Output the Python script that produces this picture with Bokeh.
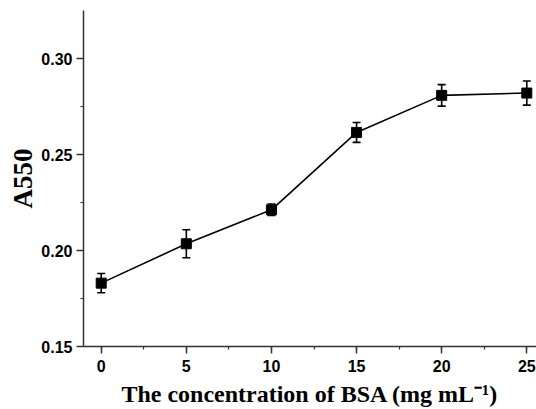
from bokeh.plotting import figure
from bokeh.models import Range1d, SingleIntervalTicker, NumeralTickFormatter, Whisker, TeeHead, ColumnDataSource
from bokeh.embed import file_html
from bokeh.resources import INLINE

conc = [0, 5, 10, 15, 20, 25]
a550 = [0.183, 0.2035, 0.2212, 0.2615, 0.2808, 0.2820]
err = [0.005, 0.0073, 0.003, 0.0052, 0.0056, 0.0063]

src = ColumnDataSource(data=dict(
    x=conc, y=a550,
    upper=[v + e for v, e in zip(a550, err)],
    lower=[v - e for v, e in zip(a550, err)],
))

p = figure(width=536, height=409, output_backend="svg", toolbar_location=None,
           x_range=Range1d(-1.04, 25.57), y_range=Range1d(0.15, 0.325),
           min_border_left=83, min_border_right=0, min_border_top=10, min_border_bottom=63)
p.outline_line_color = None
p.grid.visible = False
p.background_fill_color = "white"
p.border_fill_color = "white"

p.line("x", "y", source=src, line_color="black", line_width=1.6)
wh = Whisker(source=src, base="x", upper="upper", lower="lower", line_color="black", line_width=1.6,
             upper_head=TeeHead(size=8, line_width=1.6, line_color="black"),
             lower_head=TeeHead(size=8, line_width=1.6, line_color="black"))
p.add_layout(wh)
p.scatter("x", "y", source=src, marker="square", size=10, fill_color="black", line_color="black")

p.xaxis.ticker = SingleIntervalTicker(interval=5, num_minor_ticks=2)
p.yaxis.ticker = SingleIntervalTicker(interval=0.05, num_minor_ticks=2)
p.yaxis.formatter = NumeralTickFormatter(format="0.00")

for ax in (p.xaxis, p.yaxis):
    ax.axis_line_color = "#333333"
    ax.axis_line_width = 1.5
    ax.major_tick_line_color = "#333333"
    ax.minor_tick_line_color = "#333333"
    ax.major_tick_line_width = 1.5
    ax.minor_tick_line_width = 1.2
    ax.major_tick_out = 7
    ax.major_tick_in = 0
    ax.minor_tick_out = 3
    ax.minor_tick_in = 0
    ax.major_label_text_font = "Liberation Sans"
    ax.major_label_text_font_style = "bold"
    ax.major_label_text_font_size = "16px"
    ax.major_label_text_color = "black"
    ax.axis_label_text_font = "Liberation Serif"
    ax.axis_label_text_font_style = "bold"
    ax.axis_label_text_color = "black"

p.xaxis.axis_label = "The concentration of BSA (mg mL\u207b\u00b9)"
p.xaxis.axis_label_text_font_size = "24px"
p.xaxis.major_label_standoff = 6
p.xaxis.axis_label_standoff = 6
p.yaxis.axis_label = "A550"
p.yaxis.axis_label_text_font_size = "27px"
p.yaxis.major_label_standoff = 4
p.yaxis.axis_label_standoff = 0

open("out.html", "w").write(file_html(p, INLINE))
